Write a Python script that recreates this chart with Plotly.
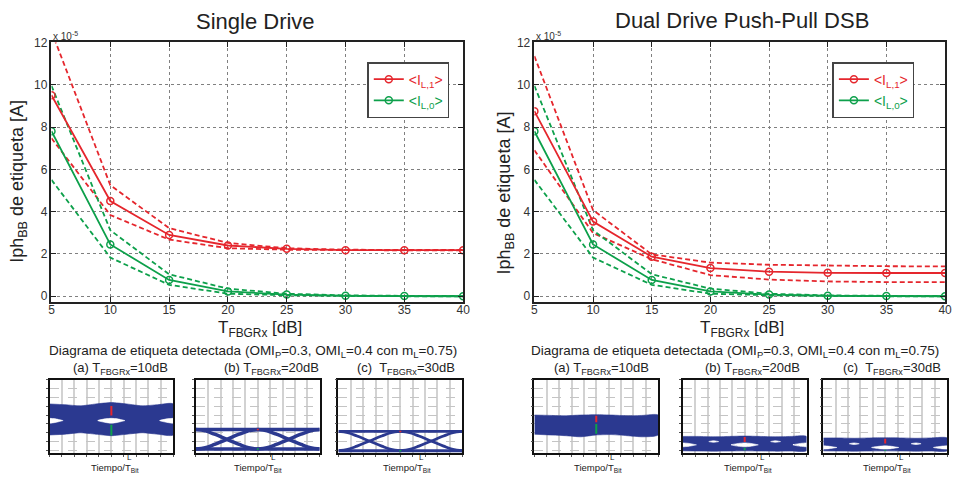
import plotly.graph_objects as go

# ---------------- data (currents in units of 1e-5 A) ----------------
T_dB = [5, 10, 15, 20, 25, 30, 35, 40]

sd_L1 = [9.5, 4.5, 2.9, 2.4, 2.24, 2.18, 2.18, 2.18]
sd_L1_hi = [12.53, 5.25, 3.22, 2.52, 2.27, 2.20, 2.19, 2.19]
sd_L1_lo = [7.47, 3.84, 2.68, 2.27, 2.20, 2.17, 2.17, 2.17]
sd_L0 = [7.8, 2.45, 0.77, 0.23, 0.08, 0.02, 0.01, 0.0]
sd_L0_hi = [9.95, 3.12, 1.04, 0.36, 0.12, 0.04, 0.02, 0.01]
sd_L0_lo = [5.5, 1.83, 0.54, 0.12, 0.05, 0.01, 0.0, 0.0]

dd_L1 = [8.75, 3.53, 1.87, 1.33, 1.16, 1.11, 1.10, 1.10]
dd_L1_hi = [11.35, 4.07, 1.98, 1.59, 1.49, 1.44, 1.42, 1.41]
dd_L1_lo = [6.9, 2.99, 1.75, 1.00, 0.79, 0.70, 0.67, 0.67]
dd_L0 = [7.8, 2.45, 0.77, 0.23, 0.08, 0.02, 0.01, 0.0]
dd_L0_hi = [9.95, 3.12, 1.04, 0.36, 0.12, 0.04, 0.02, 0.01]
dd_L0_lo = [5.5, 1.83, 0.54, 0.12, 0.05, 0.01, 0.0, 0.0]

y_ticks = [0, 2, 4, 6, 8, 10, 12]

# ---------------- eye diagram data (time in bit periods, normalised level) ----
eye_t = [0, 0.25, 0.5, 0.75, 1.0, 1.25, 1.5, 1.75, 2.0]
# transition shape (fraction of the level span during a falling edge)
tr_t = [0, 0.15, 0.3, 0.5, 0.7, 0.85, 1.0]
tr_f = [1.0, 0.93, 0.76, 0.5, 0.24, 0.07, 0.0]

# Single drive (a) 10 dB: noisy band with small openings
sa_top = [0.67, 0.66, 0.645, 0.67, 0.69, 0.67, 0.645, 0.66, 0.67]
sa_bot = [0.25, 0.26, 0.28, 0.26, 0.24, 0.26, 0.28, 0.26, 0.25]
sa_hole_t = [0.78, 0.9, 1.0, 1.1, 1.22]
sa_hole_top = [0.445, 0.468, 0.475, 0.468, 0.445]
sa_hole_bot = [0.445, 0.42, 0.41, 0.42, 0.445]
sa_red = [0.515, 0.644]
sa_green = [0.244, 0.387]
# Single drive (b) 20 dB and (c) 30 dB: clean two-level eyes
sb_high, sb_low = 0.324, 0.058
sc_high, sc_low = 0.298, 0.036
# Dual drive (a) 10 dB: closed band
da_top = [0.52, 0.515, 0.51, 0.52, 0.525, 0.52, 0.51, 0.515, 0.52]
da_bot = [0.26, 0.25, 0.24, 0.225, 0.25, 0.255, 0.24, 0.225, 0.25]
da_red = [0.422, 0.511]
da_green = [0.267, 0.40]
# Dual drive (b) 20 dB
db_top = [0.23, 0.23, 0.225, 0.23, 0.235, 0.23, 0.225, 0.23, 0.23]
db_bot = [0.035, 0.032, 0.03, 0.032, 0.035, 0.032, 0.03, 0.032, 0.035]
db_hole_top = [0.116, 0.135, 0.142, 0.135, 0.116]
db_hole_bot = [0.116, 0.096, 0.09, 0.096, 0.116]
db_small_t = [0.42, 0.5, 0.58]
db_small_top = [0.16, 0.172, 0.16]
db_small_bot = [0.16, 0.15, 0.16]
db_red = [0.156, 0.222]
db_green = [0.044, 0.075]
# Dual drive (c) 30 dB
dc_top = [0.209, 0.21, 0.205, 0.21, 0.212, 0.21, 0.205, 0.21, 0.209]
dc_bot = [0.034, 0.032, 0.03, 0.032, 0.034, 0.032, 0.03, 0.032, 0.034]
dc_hole_top = [0.08, 0.096, 0.102, 0.096, 0.08]
dc_hole_bot = [0.08, 0.064, 0.058, 0.064, 0.08]
dc_small_top = [0.131, 0.142, 0.131]
dc_small_bot = [0.131, 0.12, 0.131]
dc_red = [0.133, 0.2]
dc_green = [0.036, 0.05]

# ---------------- styling ----------------
W, H = 958, 477
FONT = "Liberation Sans, Arial, Helvetica, sans-serif"
RED = "#e5262d"
GREEN = "#0da04b"
BLUE = "#2b3990"


def fx(p):
    return p / W


def fy(p):
    return 1 - p / H


fig = go.Figure()


def add_main(xa, ya, leg, L1, L1hi, L1lo, L0, L0hi, L0lo):
    for vals in (L1hi, L1lo):
        fig.add_trace(go.Scatter(x=T_dB, y=vals, mode="lines", xaxis=xa, yaxis=ya,
                                 line=dict(color=RED, width=1.8, dash="5px,3px"),
                                 showlegend=False, hoverinfo="skip"))
    for vals in (L0hi, L0lo):
        fig.add_trace(go.Scatter(x=T_dB, y=vals, mode="lines", xaxis=xa, yaxis=ya,
                                 line=dict(color=GREEN, width=1.8, dash="5px,3px"),
                                 showlegend=False, hoverinfo="skip"))
    fig.add_trace(go.Scatter(x=T_dB, y=L1, mode="lines+markers", xaxis=xa, yaxis=ya,
                             line=dict(color=RED, width=1.8),
                             marker=dict(symbol="circle-open", size=7, color=RED, line=dict(width=1.5)),
                             name='<span style="color:%s">&lt;I<sub>L,1</sub>&gt;</span>' % RED,
                             legend=leg))
    fig.add_trace(go.Scatter(x=T_dB, y=L0, mode="lines+markers", xaxis=xa, yaxis=ya,
                             line=dict(color=GREEN, width=1.8),
                             marker=dict(symbol="circle-open", size=7, color=GREEN, line=dict(width=1.5)),
                             name='<span style="color:%s">&lt;I<sub>L,0</sub>&gt;</span>' % GREEN,
                             legend=leg))


add_main("x", "y", "legend", sd_L1, sd_L1_hi, sd_L1_lo, sd_L0, sd_L0_hi, sd_L0_lo)
add_main("x2", "y2", "legend2", dd_L1, dd_L1_hi, dd_L1_lo, dd_L0, dd_L0_hi, dd_L0_lo)


def poly(xa, ya, t, top, bot, color):
    fig.add_trace(go.Scatter(x=list(t) + list(t)[::-1], y=list(top) + list(bot)[::-1],
                             mode="lines", fill="toself", fillcolor=color,
                             line=dict(color=color, width=0.6, shape="spline", smoothing=0.6),
                             xaxis=xa, yaxis=ya, showlegend=False, hoverinfo="skip"))


def holes_at(xa, ya, centers, t_rel, top, bot):
    for c in centers:
        poly(xa, ya, [c + v for v in t_rel], top, bot, "white")


def markers(xa, ya, red, green):
    fig.add_trace(go.Scatter(x=[1, 1], y=red, mode="lines", line=dict(color=RED, width=2),
                             xaxis=xa, yaxis=ya, showlegend=False, hoverinfo="skip"))
    fig.add_trace(go.Scatter(x=[1, 1], y=green, mode="lines", line=dict(color=GREEN, width=2),
                             xaxis=xa, yaxis=ya, showlegend=False, hoverinfo="skip"))


def line_eye(xa, ya, high, low, width):
    ln = dict(color=BLUE, width=width)
    fig.add_trace(go.Scatter(x=[0, 2], y=[high, high], mode="lines", line=ln,
                             xaxis=xa, yaxis=ya, showlegend=False, hoverinfo="skip"))
    fig.add_trace(go.Scatter(x=[0, 2], y=[low, low], mode="lines", line=ln,
                             xaxis=xa, yaxis=ya, showlegend=False, hoverinfo="skip"))
    fall = [low + f * (high - low) for f in tr_f]
    rise = fall[::-1]
    for off in (0, 1):
        for ys in (fall, rise):
            fig.add_trace(go.Scatter(x=[t + off for t in tr_t], y=ys, mode="lines",
                                     line=dict(color=BLUE, width=width, shape="spline"),
                                     xaxis=xa, yaxis=ya, showlegend=False, hoverinfo="skip"))
    markers(xa, ya, [high - 0.01, high + 0.01], [low - 0.01, low + 0.01])


hole_rel = [v - 1.0 for v in sa_hole_t]
small_rel = [v - 0.5 for v in db_small_t]

# single drive (a)
poly("x3", "y3", eye_t, sa_top, sa_bot, BLUE)
holes_at("x3", "y3", [0, 1, 2], hole_rel, sa_hole_top, sa_hole_bot)
markers("x3", "y3", sa_red, sa_green)
# single drive (b), (c)
line_eye("x4", "y4", sb_high, sb_low, 3.5)
line_eye("x5", "y5", sc_high, sc_low, 2.8)
# dual drive (a)
poly("x6", "y6", eye_t, da_top, da_bot, BLUE)
markers("x6", "y6", da_red, da_green)
# dual drive (b)
poly("x7", "y7", eye_t, db_top, db_bot, BLUE)
holes_at("x7", "y7", [0, 1, 2], hole_rel, db_hole_top, db_hole_bot)
holes_at("x7", "y7", [0.5, 1.5], small_rel, db_small_top, db_small_bot)
markers("x7", "y7", db_red, db_green)
# dual drive (c)
poly("x8", "y8", eye_t, dc_top, dc_bot, BLUE)
holes_at("x8", "y8", [0, 1, 2], hole_rel, dc_hole_top, dc_hole_bot)
holes_at("x8", "y8", [0.5, 1.5], small_rel, dc_small_top, dc_small_bot)
markers("x8", "y8", dc_red, dc_green)

# ---------------- axes ----------------
main_common = dict(showgrid=True, gridcolor="#808080", griddash="dot", gridwidth=1,
                   showline=True, linecolor="#222", linewidth=1.5, mirror="ticks",
                   ticks="inside", ticklen=5, tickcolor="#222", zeroline=False,
                   tickfont=dict(family=FONT, size=12, color="#333"))
y_dom = [fy(300), fy(36)]
layout = dict(
    xaxis=dict(domain=[fx(49), fx(465)], range=[5, 40], tickvals=T_dB, anchor="y",
               ticklabelstandoff=-4, **main_common),
    yaxis=dict(domain=y_dom, range=[-0.27, 12], tickvals=y_ticks, anchor="x", **main_common),
    xaxis2=dict(domain=[fx(537), fx(952)], range=[5, 40], tickvals=T_dB, anchor="y2",
                ticklabelstandoff=-4, **main_common),
    yaxis2=dict(domain=y_dom, range=[-0.27, 12], tickvals=y_ticks, anchor="x2", **main_common),
)

eye_x_doms = [(47, 172), (195, 320), (339, 464), (537, 662), (687, 812), (829, 954)]
eye_y_dom = [fy(454), fy(379)]
for i, (a, b) in enumerate(eye_x_doms):
    n = i + 3
    layout["xaxis%d" % n] = dict(domain=[fx(a), fx(b)], range=[0, 2], anchor="y%d" % n,
                                 tick0=0, dtick=0.2, showgrid=True, gridcolor="#d2d2d2", gridwidth=1.5,
                                 showticklabels=False, ticks="outside", ticklen=2, tickcolor="#555",
                                 showline=True, linecolor="#111", linewidth=1.5, mirror=True,
                                 zeroline=False)
    layout["yaxis%d" % n] = dict(domain=eye_y_dom, range=[0, 1], anchor="x%d" % n,
                                 tick0=0.04, dtick=0.12, showgrid=True, gridcolor="#c4c4c4",
                                 griddash="dash", gridwidth=1,
                                 showticklabels=False, ticks="outside", ticklen=2, tickcolor="#555",
                                 showline=True, linecolor="#111", linewidth=1.5, mirror=True,
                                 zeroline=False)

leg_common = dict(bgcolor="white", bordercolor="#444", borderwidth=1.5,
                  font=dict(family=FONT, size=14), xanchor="right", yanchor="top",
                  tracegroupgap=0, itemwidth=30)
layout["legend"] = dict(x=fx(451), y=fy(56), **leg_common)
layout["legend2"] = dict(x=fx(921), y=fy(56), **leg_common)

ann = []


def text(x, y, s, size, angle=0, anchor="center", color="#222"):
    ann.append(dict(x=fx(x), y=fy(y), xref="paper", yref="paper", text=s, showarrow=False,
                    xanchor=anchor, yanchor="middle", textangle=angle,
                    font=dict(family=FONT, size=size, color=color)))


text(255, 15, "Single Drive", 22)
text(747, 14, "Dual Drive Push-Pull DSB", 22)
text(15, 177, "Iph<sub>BB</sub> de etiqueta [A]", 18, angle=-90)
text(508, 189, "Iph<sub>BB</sub> de etiqueta [A]", 18, angle=-90)
text(260, 327, "T<sub>FBGRx</sub> [dB]", 17)
text(747, 327, "T<sub>FBGRx</sub> [dB]", 17)
text(49, 29, "x 10<sup>-5</sup>", 10, anchor="left", color="#333")
text(537, 29, "x 10<sup>-5</sup>", 10, anchor="left", color="#333")

sub = "Diagrama de etiqueta detectada (OMI<sub>P</sub>=0.3, OMI<sub>L</sub>=0.4 con m<sub>L</sub>=0.75)"
text(253, 350, sub, 13.5)
text(740, 350, sub, 13.5)
eye_titles = ["(a) T<sub>FBGRx</sub>=10dB", "(b) T<sub>FBGRx</sub>=20dB", "(c)  T<sub>FBGRx</sub>=30dB"]
for cx, s in zip([119, 271, 407, 605, 757, 898], eye_titles * 2):
    text(cx, 368, s, 13)
for cx in [113, 258, 408, 601, 753, 893]:
    text(cx, 469, "Tiempo/T<sub>Bit</sub>", 9.5)
    text(cx + 15, 458, "L", 8)

fig.update_layout(width=W, height=H, margin=dict(l=0, r=0, t=0, b=0), autosize=False,
                  paper_bgcolor="white", plot_bgcolor="white", annotations=ann,
                  font=dict(family=FONT), **layout)

fig.write_html("out.html")
